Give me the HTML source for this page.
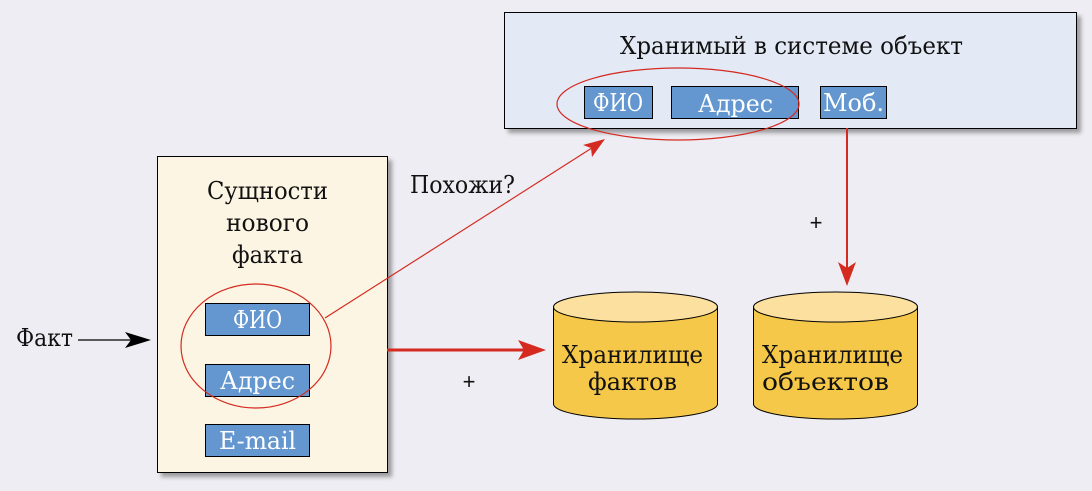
<!DOCTYPE html>
<html><head><meta charset="utf-8"><style>
html,body{margin:0;padding:0;background:#eeedf3;}
svg{display:block;}
text{font-family:"DejaVu Serif Condensed","Liberation Serif",serif;}
</style></head><body>
<svg width="1092" height="491" viewBox="0 0 1092 491" xmlns="http://www.w3.org/2000/svg">
<defs>
<filter id="sh" x="-5%" y="-5%" width="115%" height="115%"><feDropShadow dx="4" dy="4" stdDeviation="2" flood-color="#000" flood-opacity="0.35"/></filter>
</defs>
<rect width="1092" height="491" fill="#eeedf3"/>
<rect x="504.5" y="12.5" width="572" height="116" fill="#e3eaf6" stroke="#000" filter="url(#sh)"/>
<text x="620" y="54" font-size="24" textLength="343" lengthAdjust="spacingAndGlyphs" fill="#111">Хранимый в системе объект</text>
<rect x="584.5" y="86.5" width="68" height="32" fill="#6497cf" stroke="#000"/>
<text x="593" y="111" font-size="24" textLength="50" lengthAdjust="spacingAndGlyphs" fill="#fff">ФИО</text>
<rect x="671.5" y="86.5" width="127" height="32" fill="#6497cf" stroke="#000"/>
<text x="698" y="112" font-size="24" textLength="75" lengthAdjust="spacingAndGlyphs" fill="#fff">Адрес</text>
<rect x="820.5" y="86.5" width="66" height="32" fill="#6497cf" stroke="#000"/>
<text x="823" y="111" font-size="24" textLength="61" lengthAdjust="spacingAndGlyphs" fill="#fff">Моб.</text>
<ellipse cx="678" cy="104" rx="121" ry="36" fill="none" stroke="#d42a20" stroke-width="1.2"/>
<rect x="157.5" y="156.5" width="230" height="316" fill="#fdf5e3" stroke="#000" filter="url(#sh)"/>
<text x="207" y="199" font-size="24" textLength="121" lengthAdjust="spacingAndGlyphs" fill="#111">Сущности</text>
<text x="226" y="231" font-size="24" textLength="83" lengthAdjust="spacingAndGlyphs" fill="#111">нового</text>
<text x="232" y="263" font-size="24" textLength="71" lengthAdjust="spacingAndGlyphs" fill="#111">факта</text>
<rect x="205.5" y="303.5" width="104" height="32" fill="#6497cf" stroke="#000"/>
<text x="233" y="328" font-size="24" textLength="49" lengthAdjust="spacingAndGlyphs" fill="#fff">ФИО</text>
<rect x="205.5" y="364.5" width="104" height="32" fill="#6497cf" stroke="#000"/>
<text x="220" y="389" font-size="24" textLength="75" lengthAdjust="spacingAndGlyphs" fill="#fff">Адрес</text>
<rect x="205.5" y="424.5" width="104" height="32" fill="#6497cf" stroke="#000"/>
<text x="219" y="449" font-size="24" textLength="77" lengthAdjust="spacingAndGlyphs" fill="#fff">E-mail</text>
<ellipse cx="256" cy="346" rx="75" ry="62" fill="none" stroke="#d42a20" stroke-width="1.2"/>
<line x1="325" y1="318" x2="595" y2="146" stroke="#d42a20" stroke-width="1.2"/>
<polygon points="605,139 583,145 591,148 592,157" fill="#d42a20"/>
<text x="410" y="193" font-size="24" textLength="105" lengthAdjust="spacingAndGlyphs" fill="#111">Похожи?</text>
<line x1="387" y1="350" x2="530" y2="350" stroke="#d42a20" stroke-width="3"/>
<polygon points="546,350 518,340 524,350 518,360" fill="#d42a20"/>
<text x="469" y="389" font-size="22" text-anchor="middle" fill="#111" style="font-family:'Liberation Sans',sans-serif">+</text>
<text x="16" y="346" font-size="24" textLength="57" lengthAdjust="spacingAndGlyphs" fill="#111">Факт</text>
<line x1="78" y1="340" x2="138" y2="340" stroke="#000" stroke-width="1.2"/>
<polygon points="151,340 125,332 131,340 125,348" fill="#000"/>
<line x1="847" y1="128" x2="847" y2="270" stroke="#d42a20" stroke-width="2"/>
<polygon points="847,286 838,262 847,268 856,262" fill="#d42a20"/>
<text x="816" y="230" font-size="22" text-anchor="middle" fill="#111" style="font-family:'Liberation Sans',sans-serif">+</text>
<g stroke="#000" stroke-width="1">
<path d="M553.5,307 L553.5,404 A82,15 0 0 0 717.5,404 L717.5,307" fill="#f5c84a"/>
<ellipse cx="635.5" cy="307" rx="82" ry="15" fill="#fce0a0"/>
<path d="M753.5,307 L753.5,404 A82,15 0 0 0 917.5,404 L917.5,307" fill="#f5c84a"/>
<ellipse cx="835.5" cy="307" rx="82" ry="15" fill="#fce0a0"/>
</g>
<text x="562" y="363" font-size="24" textLength="141" lengthAdjust="spacingAndGlyphs" fill="#111">Хранилище</text>
<text x="588" y="390" font-size="24" textLength="89" lengthAdjust="spacingAndGlyphs" fill="#111">фактов</text>
<text x="762" y="363" font-size="24" textLength="141" lengthAdjust="spacingAndGlyphs" fill="#111">Хранилище</text>
<text x="762" y="390" font-size="24" textLength="127" lengthAdjust="spacingAndGlyphs" fill="#111">объектов</text>
</svg>
</body></html>
